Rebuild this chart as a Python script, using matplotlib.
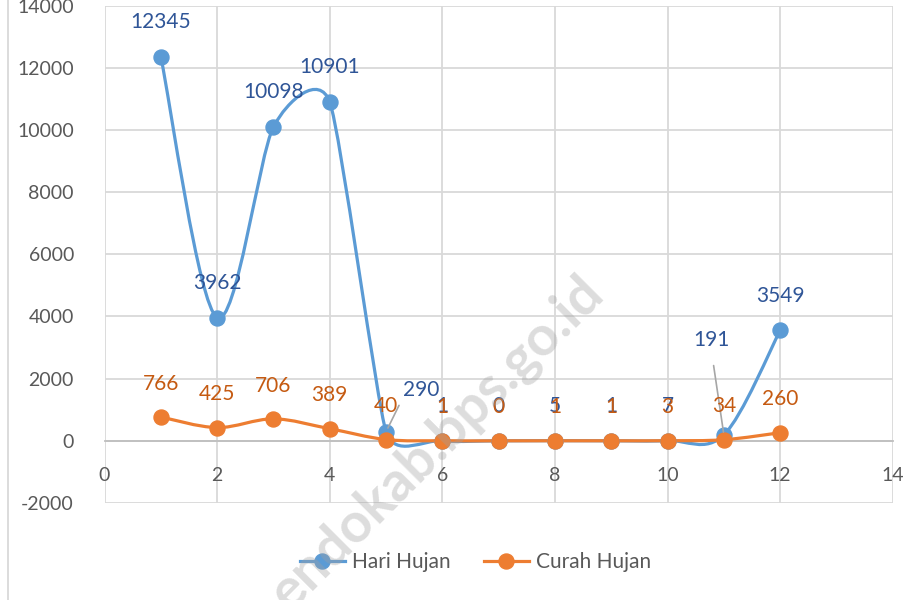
import numpy as np
import matplotlib
matplotlib.use("Agg")
import matplotlib.pyplot as plt
from matplotlib.path import Path
from matplotlib.patches import PathPatch
from matplotlib.lines import Line2D

plt.rcParams['font.family'] = ['Lato', 'DejaVu Sans']
plt.rcParams['axes.unicode_minus'] = False

# data
bulan = [1, 2, 3, 4, 5, 6, 7, 8, 9, 10, 11, 12]
hari_hujan = [12345, 3962, 10098, 10901, 290, 1, 0, 5, 1, 7, 191, 3549]
curah_hujan = [766, 425, 706, 389, 40, 1, 0, 1, 1, 3, 34, 260]

x_ticks = [0, 2, 4, 6, 8, 10, 12, 14]
y_ticks = [-2000, 0, 2000, 4000, 6000, 8000, 10000, 12000, 14000]

BLUE = '#5B9BD5'
ORANGE = '#ED7D31'
BLUE_TXT = '#2F5597'
ORANGE_TXT = '#C55A11'
GRID = '#D9D9D9'
TICK_TXT = '#595959'


def smooth_path(ax, xs, ys):
    # excel-like smoothing: catmull-rom handles (1/6), capped at half the
    # neighbouring segment lengths, computed in screen space
    pts = ax.transData.transform(np.column_stack([xs, ys]))
    n = len(pts)
    d = np.hypot(*np.diff(pts, axis=0).T)
    handles = []
    for i in range(n):
        prev_p = pts[i - 1] if i > 0 else pts[i]
        next_p = pts[i + 1] if i < n - 1 else pts[i]
        tan = next_p - prev_p
        tl = np.hypot(*tan)
        f = 1 / 6
        if tl > 0:
            if i > 0:
                f = min(f, d[i - 1] / (2 * tl))
            if i < n - 1:
                f = min(f, d[i] / (2 * tl))
        handles.append(tan * f)
    verts = [pts[0]]
    codes = [Path.MOVETO]
    for i in range(n - 1):
        verts += [pts[i] + handles[i], pts[i + 1] - handles[i + 1], pts[i + 1]]
        codes += [Path.CURVE4] * 3
    verts = ax.transData.inverted().transform(np.array(verts))
    return Path(verts, codes)


fig = plt.figure(figsize=(9.05, 6.0), dpi=100)
ax = fig.add_axes([0.1155, 0.1617, 0.871, 0.829])
ax.set_xlim(0, 14)
ax.set_ylim(-2000, 14000)
ax.set_xticks(x_ticks)
ax.set_yticks(y_ticks)
ax.grid(True, color=GRID, lw=1.3)
ax.set_axisbelow(True)
for s in ['top', 'right', 'left']:
    ax.spines[s].set_visible(False)
ax.spines['bottom'].set_position(('data', 0))
ax.spines['bottom'].set_color('#BFBFBF')
ax.spines['bottom'].set_linewidth(1.3)
ax.tick_params(axis='both', length=0, labelsize=14, labelcolor=TICK_TXT)
ax.tick_params(axis='x', pad=19)
ax.tick_params(axis='y', pad=22)

# lines
for vals, col in [(hari_hujan, BLUE), (curah_hujan, ORANGE)]:
    ax.add_patch(PathPatch(smooth_path(ax, bulan, vals), fill=False,
                           ec=col, lw=2.3, capstyle='round', zorder=3))
    ax.plot(bulan, vals, 'o', color=col, ms=10.8, zorder=4)

# data labels
for xv, yv in zip(bulan, hari_hujan):
    if yv == 290:
        ax.annotate(str(yv), (xv, yv), xytext=(25, 30), textcoords='offset points',
                    ha='center', va='center', fontsize=15, color=BLUE_TXT, zorder=5,
                    arrowprops=dict(arrowstyle='-', color='#A6A6A6', lw=1.2,
                                    shrinkA=2, shrinkB=3, relpos=(0.0, 0.1)))
    elif yv == 191:
        ax.annotate(str(yv), (xv, yv), xytext=(-9, 68), textcoords='offset points',
                    ha='center', va='center', fontsize=15, color=BLUE_TXT, zorder=5,
                    arrowprops=dict(arrowstyle='-', color='#A6A6A6', lw=1.2,
                                    shrinkA=9, shrinkB=2, relpos=(0.5, 0.0)))
    else:
        ax.annotate(str(yv), (xv, yv), xytext=(0, 25), textcoords='offset points',
                    ha='center', va='center', fontsize=15, color=BLUE_TXT, zorder=5)

for xv, yv in zip(bulan, curah_hujan):
    ax.annotate(str(yv), (xv, yv), xytext=(0, 24), textcoords='offset points',
                ha='center', va='center', fontsize=15, color=ORANGE_TXT, zorder=6)

# legend
handles = [Line2D([], [], color=BLUE, lw=2.3, marker='o', ms=10.8),
           Line2D([], [], color=ORANGE, lw=2.3, marker='o', ms=10.8)]
fig.legend(handles, ['Hari Hujan', 'Curah Hujan'], loc='center',
           bbox_to_anchor=(0.525, 0.063), ncol=2, frameon=False, fontsize=15,
           handlelength=2.2, handletextpad=0.3, columnspacing=1.6,
           labelcolor=TICK_TXT)

# chart border on the left
fig.add_artist(Line2D([8 / 905, 8 / 905], [0, 1], color='#D9D9D9', lw=1.3))

# watermark
fig.text(594 / 905, 1 - 285 / 600, 'endokab.bps.go.id', rotation=45,
         rotation_mode='anchor', ha='right', va='center', fontsize=40,
         fontweight='bold', color='#A0A0A0', alpha=0.36, zorder=10)

fig.savefig('out.png', dpi=100)
